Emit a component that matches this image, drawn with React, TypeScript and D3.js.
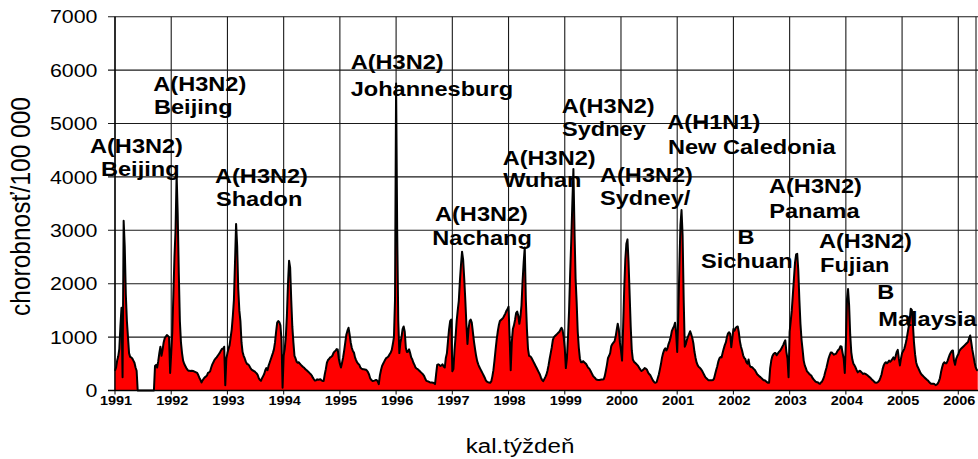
import React from 'react';
import * as d3 from 'd3';

// Weekly influenza-like illness incidence per 100 000, one array per calendar year
const years = [1991, 1992, 1993, 1994, 1995, 1996, 1997, 1998, 1999, 2000, 2001, 2002, 2003, 2004, 2005, 2006];

const y1991 = [370, 430, 560, 640, 780, 1200, 1550, 250, 3180, 2700, 1800, 1300, 1000, 700, 630, 620, 600, 560, 520, 430, 370,
  0, 0, 0, 0, 0, 0, 0, 0, 0, 0, 0, 0, 0, 0, 0, 0,
  460, 480, 430, 550, 700, 820, 650, 760, 900, 980, 1010, 1040, 1020, 1000, 330];
const y1992 = [700, 1100, 1800, 2500, 3000, 4050, 3300, 2200, 1300, 900, 700, 560, 500, 460, 420, 390, 370, 370, 365, 370,
  365, 360, 350, 340, 330, 290, 240, 200, 150, 190, 220, 245, 260, 280, 330, 340, 360, 430, 490, 530,
  570, 600, 620, 650, 680, 710, 750, 780, 780, 820, 100, 600];
const y1993 = [700, 780, 850, 1000, 1150, 1400, 1700, 2400, 3120, 2700, 1900, 1500, 1300, 900, 720, 650, 600, 540, 500, 490,
  470, 430, 400, 380, 370, 360, 340, 320, 290, 230, 200, 180, 230, 270, 310, 380, 420, 380, 460, 520,
  580, 640, 700, 770, 900, 1100, 1270, 1300, 1280, 1220, 950, 50];
const y1994 = [650, 780, 1000, 1400, 2000, 2430, 2300, 1700, 1200, 900, 650, 600, 540, 520, 530, 500, 480, 460, 440, 425,
  400, 385, 365, 345, 325, 305, 280, 240, 210, 185, 190, 210, 200, 205, 210, 190, 180, 180, 300, 400,
  520, 570, 590, 620, 630, 650, 700, 730, 745, 775, 770, 600];
const y1995 = [500, 430, 520, 620, 750, 900, 1050, 1120, 1175, 1050, 900, 800, 740, 710, 620, 570, 525, 500, 480, 430,
  410, 400, 400, 395, 390, 375, 345, 300, 230, 200, 180, 180, 185, 195, 195, 170, 120, 280, 380, 460,
  500, 540, 580, 610, 620, 640, 680, 710, 760, 870, 1000, 1700];
const y1996 = [5750, 3000, 1300, 700, 900, 1000, 1150, 1200, 1100, 800, 720, 730, 770, 700, 620, 580, 520, 480, 430, 410,
  400, 380, 360, 340, 320, 300, 270, 220, 180, 175, 165, 155, 150, 150, 145, 140, 120, 300, 480, 490,
  480, 460, 470, 490, 450, 430, 610, 700, 925, 1150, 1300, 1330];
const y1997 = [360, 400, 750, 1000, 1300, 1500, 1680, 2050, 2350, 2600, 2450, 2100, 1700, 1250, 870, 1150, 1300, 1330, 1270, 1100,
  920, 780, 650, 550, 490, 440, 400, 360, 320, 280, 240, 190, 165, 155, 150, 145, 170, 260, 380, 560,
  760, 950, 1100, 1220, 1300, 1320, 1340, 1360, 1400, 1440, 1490, 1520];
const y1998 = [1570, 1000, 380, 900, 1150, 1220, 1320, 1450, 1480, 1400, 1250, 1380, 1600, 2050, 2400, 2680, 1700, 1150, 780, 650,
  640, 620, 580, 540, 500, 460, 420, 380, 340, 300, 240, 200, 175, 210, 250, 295, 370, 470, 590, 700,
  810, 950, 1000, 1020, 1040, 1060, 1080, 1100, 1140, 1175, 1130, 1000];
const y1999 = [800, 420, 600, 1000, 1500, 2200, 2800, 3500, 4150, 3000, 2100, 1650, 1100, 800, 600, 530, 530, 550, 530, 510,
  490, 450, 420, 400, 360, 320, 280, 255, 235, 210, 200, 195, 195, 200, 205, 205, 210, 270, 370, 480,
  610, 650, 700, 830, 870, 895, 920, 1000, 1130, 1250, 1150, 900];
const y2000 = [750, 560, 1200, 1900, 2450, 2750, 2830, 2400, 1800, 1200, 750, 580, 540, 520, 500, 480, 455, 420, 390, 365,
  380, 400, 420, 410, 390, 340, 310, 290, 250, 210, 175, 150, 145, 160, 230, 300, 395, 500, 620, 700,
  760, 790, 750, 790, 870, 925, 1000, 1110, 1160, 1200, 1270, 1080];
const y2001 = [720, 1400, 2300, 3100, 3380, 2900, 1700, 820, 870, 950, 1010, 1060, 1110, 1050, 980, 880, 720, 610, 520, 470,
  440, 425, 400, 370, 330, 290, 250, 230, 210, 190, 190, 190, 190, 195, 220, 300, 380, 450, 540, 600,
  625, 620, 700, 780, 850, 900, 1000, 1070, 1090, 1060, 810, 980];
const y2002 = [1150, 1120, 1170, 1190, 1200, 1090, 920, 820, 750, 660, 610, 590, 530, 500, 580, 470, 440, 440, 420, 400,
  380, 340, 305, 285, 265, 250, 230, 210, 190, 190, 175, 155, 145, 145, 420, 560, 640, 680, 700, 700,
  660, 690, 720, 740, 770, 810, 850, 900, 940, 720, 600, 250];
const y2003 = [1100, 1300, 1500, 1800, 2100, 2400, 2550, 2560, 2250, 1700, 1250, 950, 760, 560, 470, 420, 360, 340, 315, 295,
  280, 240, 210, 190, 165, 155, 155, 135, 125, 150, 170, 210, 270, 350, 420, 510, 600, 660, 710, 710,
  690, 670, 680, 690, 730, 760, 780, 830, 820, 700, 600, 330];
const y2004 = [900, 1700, 1900, 1600, 1050, 720, 580, 500, 470, 430, 380, 340, 360, 370, 350, 330, 310, 320, 310, 300,
  285, 265, 250, 230, 205, 190, 170, 150, 145, 150, 165, 190, 240, 300, 400, 470, 510, 530, 510, 530,
  560, 540, 560, 590, 620, 580, 640, 720, 760, 600, 470, 600];
const y2005 = [700, 740, 780, 850, 940, 1060, 1180, 1300, 1530, 1510, 1250, 900, 680, 530, 460, 420, 375, 330, 300, 280,
  260, 240, 220, 200, 185, 160, 140, 125, 125, 125, 120, 100, 110, 130, 170, 230, 340, 430, 500, 530,
  510, 510, 550, 610, 670, 710, 740, 750, 560, 480, 590, 640];
const y2006 = [680, 740, 770, 790, 810, 830, 850, 870, 890, 910, 980, 1030, 900, 760, 650, 530, 440, 390, 370];

const weeklyByYear = [y1991, y1992, y1993, y1994, y1995, y1996, y1997, y1998, y1999, y2000, y2001, y2002, y2003, y2004, y2005, y2006];
const WEEKS_PER_YEAR = 52;

const yTicks = [0, 1000, 2000, 3000, 4000, 5000, 6000, 7000];
const yTitle = 'chorobnosť/100 000';
const xTitle = 'kal.týždeň';

// Dominant strain of each season
const strainLabels = [
  ['A(H3N2)', 'Beijing'],
  ['A(H3N2)', 'Beijing'],
  ['A(H3N2)', 'Shadon'],
  ['A(H3N2)', 'Johannesburg'],
  ['A(H3N2)', 'Nachang'],
  ['A(H3N2)', 'Wuhan'],
  ['A(H3N2)', 'Sydney'],
  ['A(H3N2)', 'Sydney/'],
  ['A(H1N1)', 'New Caledonia'],
  ['B', 'Sichuan'],
  ['A(H3N2)', 'Panama'],
  ['A(H3N2)', 'Fujian'],
  ['B', 'Malaysia'],
];

// Text placement (left x, baseline y) for each line of the strain labels
const strainLabelPos = [
  [[90, 153.3], [101, 175.7]],
  [[153.3, 91], [154, 114.3]],
  [[215, 182.7], [216, 206]],
  [[350.7, 69.3], [350.7, 95.5]],
  [[435, 220.7], [432.3, 245]],
  [[502.7, 165], [503.3, 186.7]],
  [[561.7, 112.7], [562, 136]],
  [[600, 181.7], [600, 205]],
  [[667.3, 129.3], [668, 154.3]],
  [[737.5, 243.5], [701, 268]],
  [[769, 192.5], [769.3, 218.3]],
  [[819, 248.3], [820, 272.3]],
  [[877.3, 299], [878.3, 325.7]],
];

const W = 978;
const H = 459;
const LEFT = 115;
const TOP = 16.7;
const BOTTOM = 390.5;
const YEAR_PX = 56.22;
const FRAME_RIGHT = 976;
const STRETCH = 1.15;
const FONT = "'Liberation Sans', Arial, Helvetica, sans-serif";

type TProps = {
  x: number;
  y: number;
  size: number;
  bold?: boolean;
  anchor?: 'start' | 'middle' | 'end';
  rotate?: number;
  children: React.ReactNode;
};

function StretchText({ x, y, size, bold, anchor = 'start', rotate, children }: TProps) {
  const tf = `translate(${x},${y}) scale(${STRETCH},1)` + (rotate ? ` rotate(${rotate})` : '');
  return (
    <text
      transform={tf}
      fontSize={size}
      fontWeight={bold ? 'bold' : 'normal'}
      textAnchor={anchor}
      fontFamily={FONT}
      fill="#000"
    >
      {children}
    </text>
  );
}

export default function App() {
  const xScale = d3
    .scaleLinear()
    .domain([years[0], years[years.length - 1]])
    .range([LEFT, LEFT + YEAR_PX * (years.length - 1)]);
  const yScale = d3.scaleLinear().domain([0, 7000]).range([BOTTOM, TOP]);

  const points = weeklyByYear.flatMap((vals, k) =>
    vals.map((v, i) => ({ t: years[k] + i / WEEKS_PER_YEAR, v }))
  );

  const area = d3
    .area<{ t: number; v: number }>()
    .x((d) => xScale(d.t))
    .y0(yScale(0))
    .y1((d) => yScale(d.v));
  const line = d3
    .line<{ t: number; v: number }>()
    .x((d) => xScale(d.t))
    .y((d) => yScale(d.v));

  const gridColor = '#1a1a1a';

  return (
    <svg
      width={W}
      height={H}
      viewBox={`0 0 ${W} ${H}`}
      style={{ position: 'absolute', left: 0, top: 0, background: '#fff' }}
    >
      <rect x={0} y={0} width={W} height={H} fill="#fff" />

      {/* horizontal grid + left ticks */}
      {yTicks.map((t) => (
        <line
          key={`h${t}`}
          x1={LEFT - 7}
          x2={W}
          y1={yScale(t)}
          y2={yScale(t)}
          stroke={gridColor}
          strokeWidth={1.1}
        />
      ))}
      {/* vertical year lines + bottom ticks */}
      {years.map((yr) => (
        <line
          key={`v${yr}`}
          x1={xScale(yr)}
          x2={xScale(yr)}
          y1={TOP}
          y2={BOTTOM + 4}
          stroke={gridColor}
          strokeWidth={1.1}
        />
      ))}
      <line x1={FRAME_RIGHT} x2={FRAME_RIGHT} y1={TOP} y2={BOTTOM} stroke={gridColor} strokeWidth={1.1} />

      {/* incidence area */}
      <path d={area(points) ?? ''} fill="#ff0000" />
      <path
        d={line(points) ?? ''}
        fill="none"
        stroke="#000"
        strokeWidth={2}
        strokeLinejoin="round"
      />

      {/* axes */}
      <line x1={LEFT} x2={LEFT} y1={TOP} y2={BOTTOM} stroke="#000" strokeWidth={1.3} />
      <line x1={LEFT - 7} x2={W} y1={BOTTOM} y2={BOTTOM} stroke="#000" strokeWidth={1.6} />

      {/* y tick labels */}
      {yTicks.map((t) => (
        <StretchText key={`yl${t}`} x={97.5} y={yScale(t) + 6.6} size={18.6} anchor="end">
          {t}
        </StretchText>
      ))}

      {/* year labels */}
      {years.map((yr) => (
        <StretchText key={`xl${yr}`} x={xScale(yr) + 1} y={405} size={12.6} bold anchor="middle">
          {yr}
        </StretchText>
      ))}

      {/* strain annotations */}
      {strainLabels.map((lines, k) =>
        lines.map((s, j) => (
          <StretchText
            key={`s${k}-${j}`}
            x={strainLabelPos[k][j][0]}
            y={strainLabelPos[k][j][1]}
            size={20.5}
            bold
          >
            {s}
          </StretchText>
        ))
      )}

      {/* axis titles */}
      <StretchText x={30} y={206.5} size={24.5} anchor="middle" rotate={-90}>
        {yTitle}
      </StretchText>
      <StretchText x={520} y={453} size={21} anchor="middle">
        {xTitle}
      </StretchText>
    </svg>
  );
}
